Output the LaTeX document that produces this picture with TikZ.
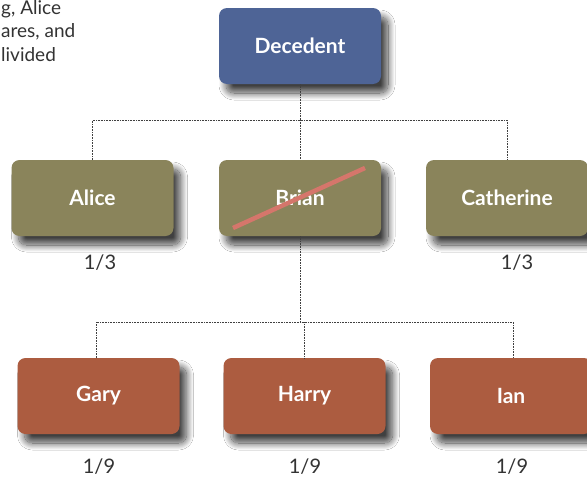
\documentclass[tikz,border=0pt]{standalone}
\usepackage{fontspec}
\setmainfont{Lato}
\usetikzlibrary{shadows.blur}
\definecolor{decblue}{HTML}{4E6496}
\definecolor{olive}{HTML}{8A845B}
\definecolor{rust}{HTML}{AC5C40}
\definecolor{strike}{HTML}{D5766B}
\definecolor{txtgray}{HTML}{333333}
\begin{document}
\begin{tikzpicture}[x=1pt,y=-1pt,
  person/.style={rounded corners=8pt, minimum width=162pt, minimum height=76pt,
    text=white, font=\fontsize{21}{24}\selectfont\bfseries, inner sep=0pt,
    blur shadow={shadow xshift=7pt, shadow yshift=-9pt, shadow blur radius=7pt,
      shadow blur steps=20, shadow opacity=75}},
  frac/.style={font=\fontsize{20}{23}\selectfont, text=txtgray, inner sep=0pt},
  conn/.style={densely dotted, line width=0.6pt, black!75},
  para/.style={font=\fontsize{19}{23}\selectfont, text=txtgray, inner sep=0pt, anchor=base west}]
\useasboundingbox (0,0) rectangle (587,479);
\fill[white] (0,0) rectangle (587,479);
% paragraph fragment
\node[para] (p1) at (1,14.5) {g, Alice};
\node[para] (p2) at (1,37.5) {ares, and};
\node[para] (p3) at (1,61) {livided};
% boxes
\node[person, fill=decblue] (dec) at (300,46) {Decedent};
\node[person, fill=olive] (alice) at (92.5,198) {Alice};
\node[person, fill=olive] (brian) at (300,198) {Brian};
\node[person, fill=olive] (cath) at (507,198) {Catherine};
\node[person, fill=rust] (gary) at (98.5,396) {Gary};
\node[person, fill=rust] (harry) at (304.5,396) {Harry};
\node[person, fill=rust] (ian) at (511,396) {Ian};
% strike
\coordinate (s1) at (233,228);
\coordinate (s2) at (365,168);
\draw[strike, line width=4.5pt] (s1) -- (s2);
% fractions
\node[frac] (fa) at (100,263) {1/3};
\node[frac] (fc) at (517,263) {1/3};
\node[frac] (fg) at (99,467) {1/9};
\node[frac] (fh) at (305,467) {1/9};
\node[frac] (fi) at (512,467) {1/9};
% connectors
\coordinate (j1) at (300,120);
\draw[conn] (dec.south) -- (j1);
\draw[conn] (alice.north) |- (j1) -| (cath.north);
\draw[conn] (j1) -- (brian.north);
\coordinate (j2) at (300,322);
\coordinate (gtop) at (96,358);
\coordinate (itop) at (513,358);
\draw[conn] (brian.south) -- (j2);
\draw[conn] (gtop) |- (j2) -| (itop);
\draw[conn] (j2) -| (harry.north);
\end{tikzpicture}
\end{document}
